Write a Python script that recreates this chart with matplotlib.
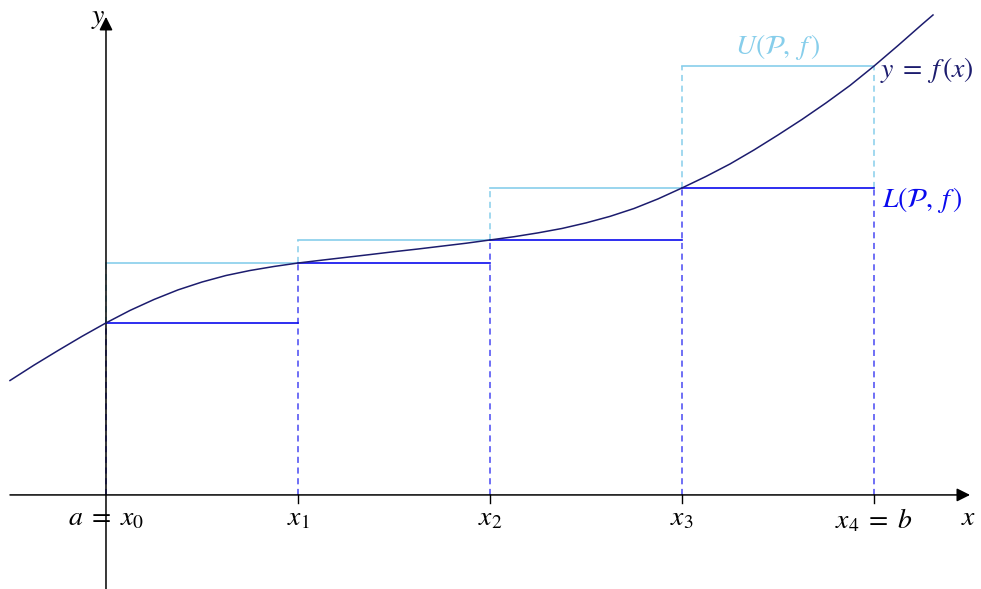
import matplotlib
matplotlib.use("Agg")
import matplotlib.pyplot as plt

plt.rcParams['mathtext.fontset'] = 'stix'
plt.rcParams['font.family'] = ['STIXGeneral', 'DejaVu Serif']

# ---- data ----
partition = [0, 1, 2, 3, 4]
tick_labels = [r"$a\;=\;x_0$", r"$x_1$", r"$x_2$", r"$x_3$", r"$x_4\;=\;b$"]
lower = [0.897, 1.208, 1.328, 1.599]
upper = [1.208, 1.328, 1.599, 2.234]
curve_x = [-0.500, -0.375, -0.250, -0.125, 0.000, 0.125, 0.250, 0.375, 0.500, 0.625,
           0.750, 0.875, 1.000, 1.125, 1.250, 1.375, 1.500, 1.625, 1.750, 1.875,
           2.000, 2.125, 2.250, 2.375, 2.500, 2.625, 2.750, 2.875, 3.000, 3.125,
           3.250, 3.375, 3.500, 3.625, 3.750, 3.875, 4.000, 4.125, 4.250, 4.307]
curve_y = [0.596, 0.676, 0.752, 0.826, 0.896, 0.961, 1.018, 1.068, 1.109, 1.143,
           1.169, 1.190, 1.208, 1.223, 1.2375, 1.252, 1.267, 1.281, 1.296, 1.311,
           1.328, 1.345, 1.365, 1.388, 1.417, 1.451, 1.492, 1.542, 1.599, 1.659,
           1.724, 1.797, 1.875, 1.956, 2.042, 2.133, 2.234, 2.341, 2.451, 2.500]

navy = '#1c1c6e'
blue = '#0a0aee'
sky = '#87ceeb'

fig = plt.figure(figsize=(9.81, 5.89), dpi=100)
ax = fig.add_axes([0, 0, 1, 1])
ax.set_xlim(-0.552, 4.557)
ax.set_ylim(-0.49, 2.578)
ax.axis('off')

# dashed verticals
for i, xi in enumerate(partition):
    adj_low = [lower[j] for j in (i - 1, i) if 0 <= j < len(lower)]
    adj_up = [upper[j] for j in (i - 1, i) if 0 <= j < len(upper)]
    lo = max(adj_low)
    hi = max(adj_up)
    ax.plot([xi, xi], [0, lo], color=blue, lw=1.1, dashes=(4, 3), zorder=2, alpha=0.75)
    ax.plot([xi, xi], [lo, hi], color=sky, lw=1.1, dashes=(4, 3), zorder=2)

# step lines
for i in range(len(lower)):
    ax.plot([partition[i], partition[i + 1]], [upper[i], upper[i]], color=sky, lw=1.2, zorder=3)
    ax.plot([partition[i], partition[i + 1]], [lower[i], lower[i]], color=blue, lw=1.2, zorder=3)

# axes with arrows
ax.annotate('', xy=(4.50, 0), xytext=(-0.50, 0),
            arrowprops=dict(arrowstyle='-|>', color='black', lw=1.1, mutation_scale=20,
                            shrinkA=0, shrinkB=0), zorder=4)
ax.annotate('', xy=(0, 2.49), xytext=(0, -0.49),
            arrowprops=dict(arrowstyle='-|>', color='black', lw=1.1, mutation_scale=20,
                            shrinkA=0, shrinkB=0), zorder=4)

# tick marks
for xi in partition[1:]:
    ax.plot([xi, xi], [0, -0.04], color='black', lw=1.0, zorder=4)

# curve
ax.plot(curve_x, curve_y, color=navy, lw=1.1, zorder=5, solid_joinstyle='round')

fs = 20
for xi, lab in zip(partition, tick_labels):
    ax.text(xi, -0.06, lab, ha='center', va='top', fontsize=fs)

ax.text(4.49, -0.055, r"$x$", ha='center', va='top', fontsize=fs)
ax.text(-0.005, 2.48, r"$y$", ha='right', va='center', fontsize=fs)

ax.text(4.03, 2.215, r"$y\;=\;f\,(x)$", ha='left', va='center', fontsize=fs, color=navy)
ax.text(4.04, 1.535, r"$L(\mathcal{P},\; f\,)$", ha='left', va='center', fontsize=fs, color=blue)
ax.text(3.5, 2.335, r"$U(\mathcal{P},\; f\,)$", ha='center', va='center', fontsize=fs, color=sky)

fig.savefig('out.png', dpi=100)
